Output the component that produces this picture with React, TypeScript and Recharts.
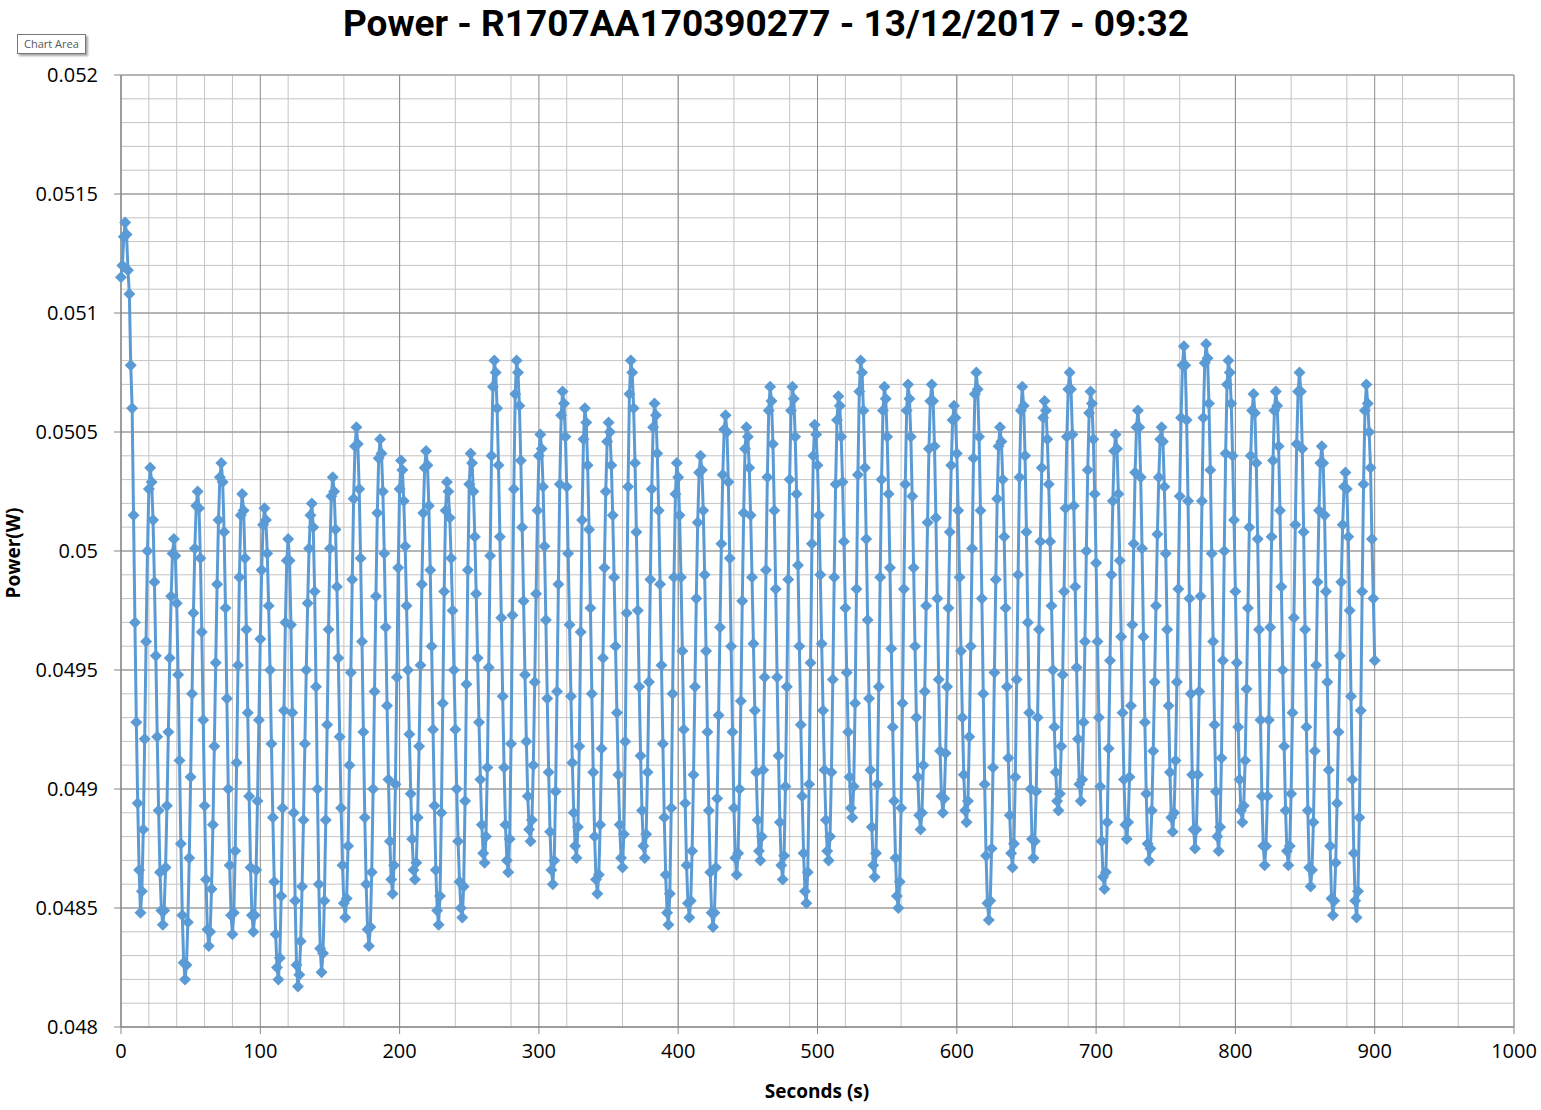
import React from 'react';
import { LineChart, Line, XAxis, YAxis, CartesianGrid } from 'recharts';

// power readings in mW, one per second (t = 0 .. 900 s)
const powerMw = [
  51.15, 51.20, 51.32, 51.38, 51.33, 51.18, 51.08, 50.78, 50.60, 50.15, 49.70, 49.28, 48.94, 48.66, 48.48,
  48.57, 48.83, 49.21, 49.62, 50.00, 50.26, 50.35,
  50.29, 50.13, 49.87, 49.56, 49.22, 48.91, 48.65, 48.49, 48.43,
  48.49, 48.67, 48.93, 49.24, 49.55, 49.81, 49.99, 50.05,
  49.98, 49.78, 49.48, 49.12, 48.77, 48.47, 48.27, 48.20,
  48.26, 48.44, 48.71, 49.05, 49.40, 49.74, 50.01, 50.19, 50.25,
  50.18, 49.97, 49.66, 49.29, 48.93, 48.62, 48.41, 48.34,
  48.40, 48.58, 48.85, 49.18, 49.53, 49.86, 50.13, 50.31, 50.37,
  50.29, 50.08, 49.76, 49.38, 49.00, 48.68, 48.47, 48.39,
  48.48, 48.74, 49.11, 49.52, 49.89, 50.15, 50.24,
  50.17, 49.97, 49.67, 49.32, 48.97, 48.67, 48.47, 48.40,
  48.47, 48.66, 48.95, 49.29, 49.63, 49.92, 50.11, 50.18,
  50.13, 49.99, 49.77, 49.50, 49.19, 48.88, 48.61, 48.39, 48.25, 48.20,
  48.29, 48.55, 48.92, 49.33, 49.70, 49.96, 50.05,
  49.96, 49.69, 49.32, 48.90, 48.53, 48.26, 48.17,
  48.22, 48.36, 48.59, 48.87, 49.19, 49.50, 49.78, 50.01, 50.15, 50.20,
  50.10, 49.83, 49.43, 49.00, 48.60, 48.33, 48.23,
  48.31, 48.53, 48.87, 49.27, 49.67, 50.01, 50.23, 50.31,
  50.25, 50.09, 49.85, 49.55, 49.22, 48.92, 48.68, 48.52, 48.46,
  48.54, 48.76, 49.10, 49.49, 49.88, 50.22, 50.44, 50.52,
  50.45, 50.26, 49.97, 49.62, 49.24, 48.88, 48.60, 48.41, 48.34,
  48.42, 48.65, 49.00, 49.41, 49.81, 50.16, 50.39, 50.47,
  50.41, 50.25, 49.99, 49.68, 49.35, 49.04, 48.78, 48.62, 48.56,
  48.68, 49.02, 49.47, 49.93, 50.26, 50.38,
  50.34, 50.21, 50.02, 49.77, 49.50, 49.23, 48.98, 48.79, 48.66, 48.62,
  48.69, 48.88, 49.18, 49.52, 49.86, 50.16, 50.35, 50.42,
  50.36, 50.19, 49.92, 49.60, 49.25, 48.93, 48.66, 48.49, 48.43,
  48.55, 48.90, 49.36, 49.83, 50.17, 50.29,
  50.25, 50.14, 49.97, 49.75, 49.50, 49.25, 49.00, 48.78, 48.61, 48.50, 48.46,
  48.59, 48.95, 49.44, 49.92, 50.28, 50.41,
  50.37, 50.25, 50.06, 49.82, 49.55, 49.28, 49.04, 48.85, 48.73, 48.69,
  48.80, 49.09, 49.51, 49.98, 50.40, 50.69, 50.80,
  50.75, 50.60, 50.36, 50.06, 49.72, 49.39, 49.09, 48.85, 48.70, 48.65,
  48.79, 49.19, 49.73, 50.26, 50.66, 50.80,
  50.75, 50.61, 50.38, 50.10, 49.79, 49.48, 49.20, 48.97, 48.83, 48.78,
  48.87, 49.10, 49.45, 49.82, 50.17, 50.40, 50.49,
  50.43, 50.27, 50.02, 49.71, 49.38, 49.07, 48.82, 48.66, 48.60,
  48.70, 48.99, 49.41, 49.86, 50.28, 50.57, 50.67,
  50.62, 50.48, 50.27, 49.99, 49.69, 49.39, 49.11, 48.90, 48.76, 48.71,
  48.84, 49.18, 49.66, 50.13, 50.47, 50.60,
  50.54, 50.36, 50.09, 49.76, 49.40, 49.07, 48.80, 48.62, 48.56,
  48.64, 48.85, 49.17, 49.55, 49.93, 50.25, 50.46, 50.54,
  50.50, 50.36, 50.15, 49.89, 49.60, 49.32, 49.06, 48.85, 48.71, 48.67,
  48.81, 49.20, 49.74, 50.27, 50.66, 50.80,
  50.75, 50.60, 50.37, 50.08, 49.75, 49.43, 49.14, 48.91, 48.76, 48.71,
  48.81, 49.07, 49.45, 49.88, 50.26, 50.52, 50.62,
  50.57, 50.41, 50.17, 49.86, 49.52, 49.19, 48.88, 48.64, 48.48, 48.43,
  48.56, 48.92, 49.40, 49.89, 50.24, 50.37,
  50.31, 50.15, 49.89, 49.58, 49.25, 48.94, 48.68, 48.52, 48.46,
  48.53, 48.74, 49.06, 49.43, 49.80, 50.12, 50.33, 50.40,
  50.34, 50.17, 49.90, 49.58, 49.24, 48.91, 48.65, 48.48, 48.42,
  48.48, 48.67, 48.96, 49.31, 49.68, 50.03, 50.32, 50.51, 50.57,
  50.50, 50.29, 49.97, 49.60, 49.24, 48.92, 48.71, 48.64,
  48.73, 49.00, 49.37, 49.79, 50.16, 50.43, 50.52,
  50.48, 50.35, 50.15, 49.89, 49.61, 49.33, 49.07, 48.87, 48.74, 48.70,
  48.80, 49.08, 49.47, 49.92, 50.31, 50.59, 50.69,
  50.63, 50.45, 50.17, 49.84, 49.47, 49.14, 48.86, 48.68, 48.62,
  48.72, 49.01, 49.43, 49.88, 50.30, 50.59, 50.69,
  50.64, 50.48, 50.24, 49.94, 49.60, 49.27, 48.97, 48.73, 48.57, 48.52,
  48.65, 49.02, 49.53, 50.03, 50.40, 50.53,
  50.49, 50.36, 50.15, 49.90, 49.61, 49.33, 49.08, 48.87, 48.74, 48.70,
  48.80, 49.07, 49.46, 49.89, 50.28, 50.55, 50.65,
  50.61, 50.48, 50.29, 50.04, 49.76, 49.49, 49.24, 49.05, 48.92, 48.88,
  49.01, 49.36, 49.84, 50.32, 50.67, 50.80,
  50.75, 50.59, 50.35, 50.05, 49.71, 49.38, 49.08, 48.84, 48.68, 48.63,
  48.73, 49.02, 49.43, 49.89, 50.30, 50.59, 50.69,
  50.64, 50.48, 50.24, 49.93, 49.59, 49.26, 48.95, 48.71, 48.55, 48.50,
  48.61, 48.92, 49.36, 49.84, 50.28, 50.59, 50.70,
  50.64, 50.48, 50.23, 49.93, 49.60, 49.30, 49.05, 48.89, 48.83,
  48.90, 49.10, 49.41, 49.77, 50.12, 50.43, 50.63, 50.70,
  50.63, 50.44, 50.14, 49.80, 49.46, 49.16, 48.97, 48.90,
  48.96, 49.15, 49.43, 49.76, 50.08, 50.36, 50.55, 50.61,
  50.56, 50.41, 50.17, 49.89, 49.58, 49.30, 49.06, 48.91, 48.86,
  48.95, 49.22, 49.60, 50.01, 50.39, 50.66, 50.75,
  50.68, 50.48, 50.17, 49.80, 49.40, 49.02, 48.72, 48.52, 48.45,
  48.53, 48.75, 49.09, 49.49, 49.88, 50.22, 50.44, 50.52,
  50.46, 50.30, 50.06, 49.76, 49.43, 49.13, 48.89, 48.73, 48.67,
  48.77, 49.05, 49.46, 49.90, 50.31, 50.59, 50.69,
  50.61, 50.40, 50.08, 49.70, 49.32, 49.00, 48.79, 48.71,
  48.78, 48.99, 49.30, 49.67, 50.04, 50.35, 50.56, 50.63,
  50.59, 50.47, 50.28, 50.04, 49.77, 49.50, 49.26, 49.07, 48.95, 48.91,
  48.98, 49.18, 49.48, 49.83, 50.18, 50.48, 50.68, 50.75,
  50.68, 50.49, 50.19, 49.85, 49.51, 49.21, 49.02, 48.95,
  49.04, 49.28, 49.62, 50.00, 50.34, 50.58, 50.67,
  50.62, 50.47, 50.24, 49.95, 49.62, 49.30, 49.01, 48.78, 48.63, 48.58,
  48.65, 48.86, 49.17, 49.54, 49.90, 50.21, 50.42, 50.49,
  50.43, 50.24, 49.96, 49.64, 49.32, 49.04, 48.85, 48.79,
  48.86, 49.05, 49.35, 49.69, 50.03, 50.33, 50.52, 50.59,
  50.52, 50.31, 50.01, 49.64, 49.28, 48.98, 48.77, 48.70,
  48.75, 48.91, 49.16, 49.45, 49.77, 50.07, 50.31, 50.47, 50.52,
  50.46, 50.27, 49.99, 49.67, 49.35, 49.07, 48.88, 48.82,
  48.90, 49.12, 49.45, 49.84, 50.23, 50.56, 50.78, 50.86,
  50.78, 50.55, 50.21, 49.80, 49.40, 49.06, 48.83, 48.75,
  48.83, 49.06, 49.41, 49.81, 50.21, 50.56, 50.79, 50.87,
  50.81, 50.62, 50.34, 49.99, 49.62, 49.27, 48.99, 48.80, 48.74,
  48.84, 49.13, 49.54, 50.00, 50.41, 50.70, 50.80,
  50.75, 50.62, 50.40, 50.13, 49.83, 49.53, 49.26, 49.04, 48.91, 48.86,
  48.93, 49.12, 49.42, 49.76, 50.10, 50.40, 50.59, 50.66,
  50.58, 50.37, 50.05, 49.67, 49.29, 48.97, 48.76, 48.68,
  48.76, 48.97, 49.29, 49.68, 50.06, 50.38, 50.59, 50.67,
  50.61, 50.44, 50.17, 49.85, 49.50, 49.18, 48.91, 48.74, 48.68,
  48.76, 48.98, 49.32, 49.72, 50.11, 50.45, 50.67, 50.75,
  50.67, 50.43, 50.08, 49.67, 49.26, 48.91, 48.67, 48.59,
  48.66, 48.86, 49.16, 49.52, 49.87, 50.17, 50.37, 50.44,
  50.37, 50.15, 49.83, 49.45, 49.08, 48.76, 48.54, 48.47,
  48.53, 48.69, 48.94, 49.24, 49.56, 49.87, 50.11, 50.27, 50.33,
  50.26, 50.06, 49.75, 49.39, 49.04, 48.73, 48.53, 48.46,
  48.57, 48.88, 49.33, 49.83, 50.28, 50.59, 50.70,
  50.62, 50.50, 50.35, 50.05, 49.80, 49.54,
];

const SAMPLE_STEP_S = 1;

const secondTicks = [0, 100, 200, 300, 400, 500, 600, 700, 800, 900, 1000];
const powerTicks = [0.048, 0.0485, 0.049, 0.0495, 0.05, 0.0505, 0.051, 0.0515, 0.052];

// minor gridlines: every 20 s and every 0.0001 W
const minorSecondLines = Array.from({ length: 51 }, (_, i) => i * 20);
const minorPowerLines = Array.from({ length: 41 }, (_, i) => 0.048 + i * 0.0001);

const data = powerMw.map((mw, i) => ({ seconds: i * SAMPLE_STEP_S, power: mw / 1000 }));

const BLUE = '#5b9bd5';
const FONT = "'Open Sans', 'Liberation Sans', sans-serif";

const Diamond = (props: any) => {
  const { cx, cy, index } = props;
  if (cx == null || cy == null) return <g key={`m-${index}`} />;
  const r = 6;
  return (
    <path
      key={`m-${index}`}
      d={`M${cx},${cy - r}L${cx + r},${cy}L${cx},${cy + r}L${cx - r},${cy}Z`}
      fill={BLUE}
    />
  );
};

export default function App() {
  const tickStyle = { fill: '#000', fontSize: 20, fontFamily: FONT };
  return (
    <div style={{ position: 'absolute', left: 0, top: 0, width: 1541, height: 1110, background: '#fff' }}>
      <LineChart width={1541} height={1110} data={data} margin={{ top: 75, right: 27, bottom: 0, left: 0 }}>
        <CartesianGrid stroke="#c4c4c4" strokeWidth={1} verticalValues={minorSecondLines} horizontalValues={minorPowerLines} />
        <CartesianGrid stroke="#8a8a8a" strokeWidth={1} verticalValues={secondTicks} horizontalValues={powerTicks} />
        <XAxis
          type="number"
          dataKey="seconds"
          domain={[0, 1000]}
          ticks={secondTicks}
          height={83}
          tickSize={7}
          tickMargin={10}
          tick={tickStyle}
          stroke="#868686"
          tickLine={{ stroke: '#868686' }}
          axisLine={{ stroke: '#868686' }}
        />
        <YAxis
          type="number"
          domain={[0.048, 0.052]}
          ticks={powerTicks}
          width={121}
          tickSize={7}
          tickMargin={16}
          tick={tickStyle}
          tickFormatter={(v: number) => String(v)}
          stroke="#868686"
          tickLine={{ stroke: '#868686' }}
          axisLine={{ stroke: '#868686' }}
        />
        <Line
          type="linear"
          dataKey="power"
          stroke={BLUE}
          strokeWidth={3}
          dot={Diamond}
          activeDot={false}
          isAnimationActive={false}
        />
      </LineChart>
      <svg width={1541} height={1110} style={{ position: 'absolute', left: 0, top: 0, pointerEvents: 'none' }}>
        <text
          x={766}
          y={36}
          textAnchor="middle"
          fontFamily="Roboto, 'Open Sans', sans-serif"
          fontWeight="bold"
          fontSize={37}
          fill="#000"
        >
          Power - R1707AA170390277 - 13/12/2017 - 09:32
        </text>
        <text x={817} y={1098} textAnchor="middle" fontFamily={FONT} fontWeight="bold" fontSize={19} fill="#000">
          Seconds (s)
        </text>
        <text
          x={0}
          y={0}
          transform="translate(20,553) rotate(-90)"
          textAnchor="middle"
          fontFamily={FONT}
          fontWeight="bold"
          fontSize={19}
          fill="#000"
        >
          Power(W)
        </text>
      </svg>
      <div
        style={{
          position: 'absolute',
          left: 17,
          top: 34,
          height: 18,
          padding: '0 6px',
          border: '1px solid #767676',
          background: '#fff',
          boxShadow: '2px 2px 2px rgba(0,0,0,0.35)',
          fontFamily: FONT,
          fontSize: 11,
          lineHeight: '18px',
          color: '#575757',
          whiteSpace: 'nowrap',
        }}
      >
        Chart Area
      </div>
    </div>
  );
}
